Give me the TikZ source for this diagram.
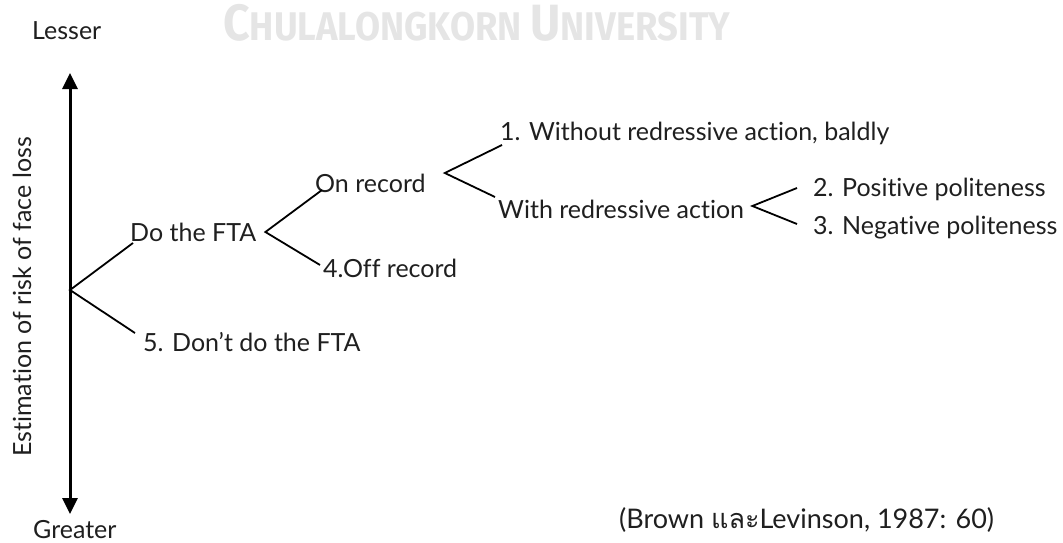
\documentclass[tikz,border=0pt]{standalone}
\usepackage{fontspec}
\setmainfont{Lato}[Ligatures=NoCommon]
\newfontfamily\thaifont[Script=Thai]{Loma}
\newfontfamily\wmfont{Fira Sans}
\usetikzlibrary{arrows.meta,calc}
\begin{document}
\begin{tikzpicture}[x=1pt,y=-1pt,
  lbl/.style={inner sep=0pt, anchor=west, font=\fontsize{25}{29}\selectfont, text=black!88},
  br/.style={line width=1.8pt, black},
  axis/.style={line width=3pt, black, {Triangle[length=16pt,width=15pt]}-{Triangle[length=16pt,width=15pt]}}]
\useasboundingbox (0,0) rectangle (1063,543);
% watermark
\node[anchor=base west, inner sep=0pt, text=black!10] (wm) at (223,41)
  {\scalebox{0.91}[1]{\wmfont\bfseries\fontsize{51}{51}\selectfont C\fontsize{40}{40}\selectfont HULALONGKORN \fontsize{51}{51}\selectfont U\fontsize{40}{40}\selectfont NIVERSITY}};
% axis
\node[lbl] (lesser) at (32,31) {Lesser};
\node[lbl] (greater) at (33,530) {Greater};
\coordinate (atop) at (70,73);
\coordinate (abot) at (70,514);
\draw[axis] (abot) -- (atop);
\node[inner sep=0pt, rotate=90, font=\fontsize{25}{29}\selectfont, text=black!88] (ylab) at (22,297) {Estimation of risk of face loss};
% nodes
\coordinate (o) at (70,290);
\node[lbl] (dofta) at (130,232) {Do the FTA};
\node[lbl] (dont) at (143,342) {5. Don’t do the FTA};
\node[lbl] (onrec) at (315,183) {On record};
\node[lbl] (offrec) at (323,268) {4.Off record};
\node[lbl] (bald) at (500,133) {1. Without redressive action, baldly};
\node[lbl] (withr) at (498,209) {With redressive action};
\node[lbl] (pos) at (813,189) {2. Positive politeness};
\node[lbl] (neg) at (813,228) {3. Negative politeness};
\node[lbl, font=\fontsize{27}{31}\selectfont] (cite) at (619,520) {(Brown {\thaifont และ}Levinson, 1987: 60)};
% connectors
\draw[br] ($(dofta.west)+(3,11)$) -- (o) -- ($(dont.west)+(-8,-9)$);
\coordinate (f1) at ($(dofta.east)+(9,0)$);
\draw[br] ($(onrec.west)+(7,7)$) -- (f1) -- ($(offrec.west)+(-3,-3)$);
\coordinate (f2) at ($(onrec.east)+(19,-10)$);
\draw[br] ($(bald.west)+(2,12)$) -- (f2) -- ($(withr.west)+(-3,-12)$);
\coordinate (f3) at ($(withr.east)+(8,-3)$);
\draw[br] ($(pos.west)+(-16,-1)$) -- (f3) -- ($(neg.west)+(-16,-4)$);
\end{tikzpicture}
\end{document}
